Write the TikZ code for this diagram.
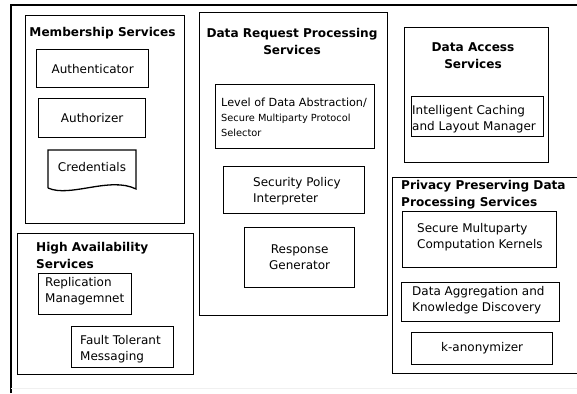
\documentclass[tikz,border=0pt]{standalone}
\usepackage{fontspec}
\setmainfont{DejaVu Sans}
\begin{document}
\begin{tikzpicture}[x=1pt,y=-1pt,
  frame/.style={draw, line width=1.3pt},
  cont/.style={draw, line width=1.3pt, anchor=north west, inner sep=0pt},
  box/.style={draw, line width=1.3pt, anchor=north west, inner sep=0pt, align=center, font=\fontsize{12}{16}\selectfont},
  ttl/.style={font=\fontsize{12.1}{17}\selectfont\bfseries, inner sep=0pt},
  txt/.style={font=\fontsize{12}{16}\selectfont, inner sep=0pt, align=left, anchor=west},
]
\useasboundingbox (0,0) rectangle (577,393);
% outer frame
\draw[frame] (11,393) -- (11,5) -- (577,5);
\draw[gray!12, line width=0.8pt] (11,388.5) -- (577,388.5);

% Membership Services
\node[cont, minimum width=159, minimum height=208] (mem) at (25,15) {};
\node[ttl] (memT) at (102.5,33) {Membership Services};
\node[box, minimum width=112, minimum height=38] (auth) at (36,49) {Authenticator};
\node[box, minimum width=107, minimum height=39] (authz) at (38,98) {Authorizer};
\draw[line width=1.3pt] (48,188) -- (48,150) -- (136,150) -- (136,189)
  .. controls (110,176) and (70,198) .. (48,188);
\node[font=\fontsize{12}{16}\selectfont, inner sep=0pt] (cred) at (92,167) {Credentials};

% High Availability Services
\node[cont, minimum width=176, minimum height=141] (ha) at (17,233) {};
\node[ttl, anchor=west, align=left] (haT) at (36,255) {High Availability\\Services};
\node[cont, minimum width=93, minimum height=41] (rep) at (38,273) {};
\node[txt] (repT) at (45,291) {Replication\\Managemnet};
\node[cont, minimum width=102, minimum height=41] (ft) at (71,326) {};
\node[txt] (ftT) at (80,349.5) {Fault Tolerant\\Messaging};

% Data Request Processing Services
\node[cont, minimum width=188, minimum height=303] (drp) at (199,12) {};
\node[ttl, align=center] (drpT) at (292,41.5) {Data Request Processing\\Services};
\node[cont, minimum width=159, minimum height=64] (lvl) at (215,84) {};
\node[txt] (lvlT) at (221,117.5) {{\fontsize{11.2}{15}\selectfont Level of Data Abstraction/}\\[-1pt]{\fontsize{9.8}{14}\selectfont Secure Multiparty Protocol}\\[-1pt]{\fontsize{9.8}{14}\selectfont Selector}};
\node[cont, minimum width=141, minimum height=47] (sec) at (223,166) {};
\node[txt] (secT) at (253,191) {Security Policy\\Interpreter};
\node[box, minimum width=110, minimum height=60] (resp) at (244,227) {Response\\Generator};

% Data Access Services
\node[cont, minimum width=144, minimum height=135] (das) at (404,27) {};
\node[ttl, align=center] (dasT) at (473,56) {Data Access\\Services};
\node[cont, minimum width=132, minimum height=40] (icl) at (411,96) {};
\node[txt] (iclT) at (412,119) {Intelligent Caching\\and Layout Manager};

% Privacy Preserving Data Processing Services
\node[cont, minimum width=186, minimum height=196] (pp) at (392,177) {};
\node[ttl, anchor=west, align=left] (ppT) at (401,194.5) {Privacy Preserving Data\\Processing Services};
\node[cont, minimum width=154, minimum height=56] (smc) at (402,211) {};
\node[txt] (smcT) at (417,237.5) {Secure Multuparty\\Computation Kernels};
\node[cont, minimum width=158, minimum height=39] (dak) at (401,282) {};
\node[txt] (dakT) at (412,300) {Data Aggregation and\\Knowledge Discovery};
\node[box, minimum width=141, minimum height=32] (kan) at (411,332) {k-anonymizer};
\end{tikzpicture}
\end{document}
